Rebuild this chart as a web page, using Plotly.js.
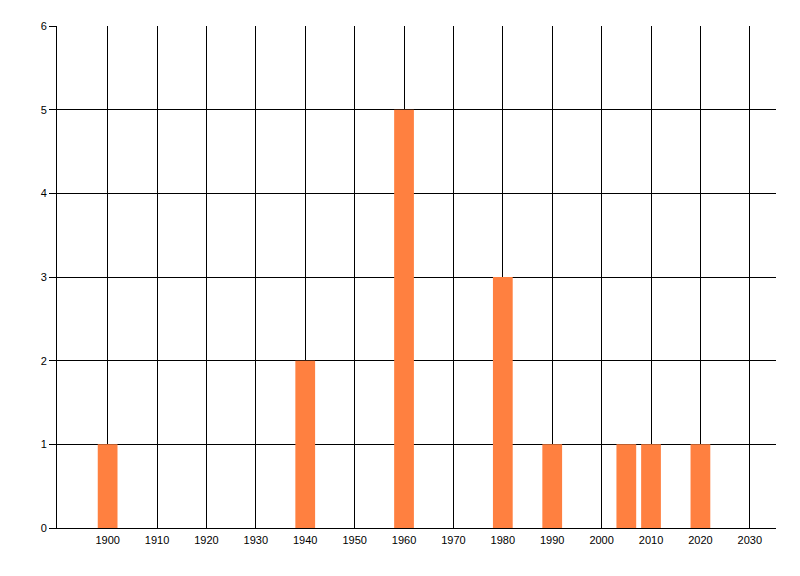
<!DOCTYPE html>
<html>
<head>
<meta charset="utf-8">
<script src="https://cdn.plot.ly/plotly-3.0.1.min.js"></script>
<style>html,body{margin:0;padding:0;background:#fff;}#chart{width:800px;height:576px;}</style>
</head>
<body>
<div id="chart"></div>
<script>
const years = [1900, 1940, 1960, 1980, 1990, 2005, 2010, 2020];
const counts = [1, 2, 5, 3, 1, 1, 1, 1];
const xTicks = [1900, 1910, 1920, 1930, 1940, 1950, 1960, 1970, 1980, 1990, 2000, 2010, 2020, 2030];
const yTicks = [0, 1, 2, 3, 4, 5, 6];

Plotly.newPlot('chart', [{
  type: 'bar',
  x: years,
  y: counts,
  width: 4,
  marker: {color: 'rgb(255,128,64)', line: {width: 0}},
  hoverinfo: 'x+y'
}], {
  width: 800, height: 576,
  margin: {l: 57, r: 24, t: 26, b: 48, pad: 0},
  paper_bgcolor: '#fff', plot_bgcolor: '#fff',
  showlegend: false,
  font: {family: 'Liberation Sans, Arial, sans-serif', size: 11, color: '#000'},
  xaxis: {
    range: [1889.75, 2035.3],
    tickmode: 'array', tickvals: xTicks, ticktext: xTicks.map(String),
    showgrid: true, gridcolor: '#000', gridwidth: 1,
    showline: true, linecolor: '#000', linewidth: 1,
    ticks: '', zeroline: false, ticklabelstandoff: 2
  },
  yaxis: {
    range: [0, 6],
    tickmode: 'array', tickvals: yTicks, ticktext: yTicks.map(String),
    showgrid: true, gridcolor: '#000', gridwidth: 1,
    showline: true, linecolor: '#000', linewidth: 1,
    ticks: 'outside', ticklen: 7, tickcolor: '#000', tickwidth: 1,
    zeroline: false
  }
}, {displayModeBar: false, staticPlot: true});
</script>
</body>
</html>
